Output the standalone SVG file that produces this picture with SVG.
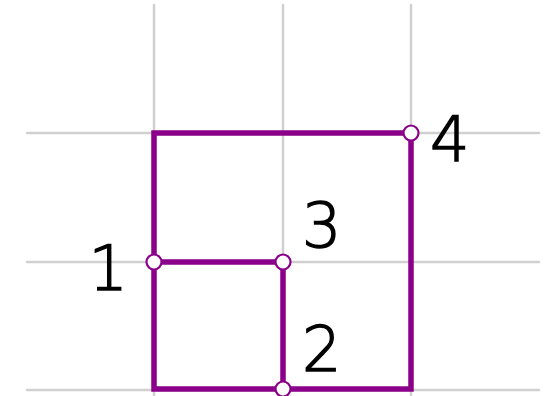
<svg xmlns="http://www.w3.org/2000/svg" width="556" height="396" viewBox="0 0 556 396">
<style>
.grid{stroke:#d0d0d0;stroke-width:2.5;stroke-linecap:round;fill:none}
.edge{stroke:#8b008b;stroke-width:5.5;fill:none;stroke-linejoin:miter;stroke-linecap:square}
.pt{fill:#ffffff;stroke:#8b008b;stroke-width:2.2}
.lbl{font-family:"DejaVu Sans","Liberation Sans",sans-serif;font-weight:200;font-size:62px;fill:#000;stroke:#000;stroke-width:1.4}
</style>
<rect width="556" height="396" fill="#ffffff"/>
<g id="grid">
<line class="grid" x1="154" y1="5" x2="154" y2="398"/>
<line class="grid" x1="283" y1="5" x2="283" y2="398"/>
<line class="grid" x1="411" y1="5" x2="411" y2="398"/>
<line class="grid" x1="27" y1="133" x2="539" y2="133"/>
<line class="grid" x1="27" y1="262" x2="539" y2="262"/>
<line class="grid" x1="27" y1="390" x2="539" y2="390"/>
</g>
<g id="connectors">
<path class="edge" d="M154,133 H411 V389 H154 Z"/>
<path class="edge" d="M154,262 H283 V389"/>
</g>
<g id="node1"><circle class="pt" cx="154" cy="262" r="7.5"/><text class="lbl" x="128" y="290" text-anchor="end">1</text></g>
<g id="node2"><circle class="pt" cx="283" cy="389" r="7.5"/><text class="lbl" x="302" y="371">2</text></g>
<g id="node3"><circle class="pt" cx="283" cy="262" r="7.5"/><text class="lbl" x="302" y="247">3</text></g>
<g id="node4"><circle class="pt" cx="411" cy="133" r="7.5"/><text class="lbl" x="430" y="161">4</text></g>
</svg>
